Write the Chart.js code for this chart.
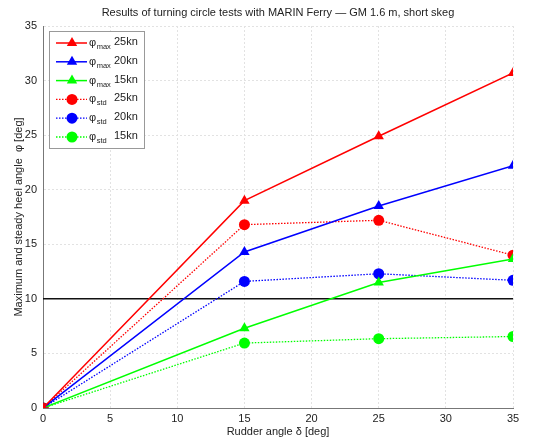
<!DOCTYPE html>
<html lang="en">
<head>
  <meta charset="UTF-8">
  <title>Turning circle tests</title>
  <script src="https://cdn.jsdelivr.net/npm/chart.js"></script>
  <style>
    * { margin: 0; padding: 0; box-sizing: border-box; }
    body { background: white; }
    .wrap { width: 538px; height: 440px; position: relative; }
  </style>
</head>
<body>

<div class="wrap">
  <canvas id="heelChart"></canvas>
</div>

<script>
  // data
  const rudderAngle = [0, 15, 25, 35];
  const phiMax25 = [0, 19.0, 24.9, 30.7];
  const phiMax20 = [0, 14.3, 18.5, 22.2];
  const phiMax15 = [0, 7.3, 11.5, 13.65];
  const phiStd25 = [0, 16.8, 17.2, 14.0];
  const phiStd20 = [0, 11.6, 12.3, 11.7];
  const phiStd15 = [0, 5.95, 6.35, 6.55];
  const refLevel = 10;
  const xTicks = [0, 5, 10, 15, 20, 25, 30, 35];
  const yTicks = [0, 5, 10, 15, 20, 25, 30, 35];

  const legendSub = ['max', 'max', 'max', 'std', 'std', 'std'];
  const legendSpeed = ['25kn', '20kn', '15kn', '25kn', '20kn', '15kn'];

  const FONT = "'Liberation Sans', Arial, sans-serif";

  function pts(ys) {
    return ys.map((y, i) => ({ x: rudderAngle[i], y: y }));
  }

  function maxSeries(ys, color) {
    return {
      data: pts(ys), borderColor: color, backgroundColor: color,
      borderWidth: 1.5, pointStyle: 'triangle', pointRadius: 6,
      pointBorderWidth: 0, tension: 0
    };
  }

  function stdSeries(ys, color) {
    return {
      data: pts(ys), borderColor: color, backgroundColor: color,
      borderWidth: 1.3, borderDash: [1.5, 1.5], pointStyle: 'circle', pointRadius: 5.5,
      pointBorderWidth: 0, tension: 0
    };
  }

  const datasets = [
    maxSeries(phiMax25, '#ff0000'),
    maxSeries(phiMax20, '#0000ff'),
    maxSeries(phiMax15, '#00ff00'),
    stdSeries(phiStd25, '#ff0000'),
    stdSeries(phiStd20, '#0000ff'),
    stdSeries(phiStd15, '#00ff00'),
    {
      data: [{ x: xTicks[0], y: refLevel }, { x: xTicks[xTicks.length - 1], y: refLevel }],
      borderColor: '#111', borderWidth: 1.5, pointRadius: 0, tension: 0, order: 10
    }
  ];

  // title + legend with subscripts drawn on the canvas
  const decorPlugin = {
    id: 'decor',
    afterDraw(chart) {
      const ctx = chart.ctx;
      const area = chart.chartArea;
      ctx.save();
      ctx.fillStyle = '#222';
      ctx.font = '11px ' + FONT;
      ctx.textAlign = 'center';
      ctx.textBaseline = 'middle';
      ctx.fillText('Results of turning circle tests with MARIN Ferry \u2014 GM 1.6 m, short skeg', (area.left + area.right) / 2, 13);

      // legend box
      const bx = 49, by = 31, bw = 95, bh = 117;
      ctx.fillStyle = 'white';
      ctx.fillRect(bx, by, bw, bh);
      ctx.strokeStyle = '#999';
      ctx.lineWidth = 1;
      ctx.strokeRect(bx + 0.5, by + 0.5, bw, bh);

      for (let i = 0; i < 6; i++) {
        const ds = chart.data.datasets[i];
        const yy = 43 + i * 18.8;
        ctx.strokeStyle = ds.borderColor;
        ctx.lineWidth = ds.borderWidth;
        ctx.setLineDash(ds.borderDash || []);
        ctx.beginPath();
        ctx.moveTo(56, yy);
        ctx.lineTo(87, yy);
        ctx.stroke();
        ctx.setLineDash([]);
        ctx.fillStyle = ds.backgroundColor;
        ctx.beginPath();
        if (ds.pointStyle === 'triangle') {
          const r = ds.pointRadius;
          ctx.moveTo(72, yy - r);
          ctx.lineTo(72 + r * 0.866, yy + r * 0.5);
          ctx.lineTo(72 - r * 0.866, yy + r * 0.5);
          ctx.closePath();
        } else {
          ctx.arc(72, yy, ds.pointRadius, 0, Math.PI * 2);
        }
        ctx.fill();

        ctx.fillStyle = '#222';
        ctx.textAlign = 'left';
        ctx.font = '11px ' + FONT;
        ctx.fillText('\u03c6', 89, yy);
        const phiW = ctx.measureText('\u03c6').width;
        ctx.font = '7.5px ' + FONT;
        ctx.fillText(legendSub[i], 89 + phiW + 0.5, yy + 4);
        ctx.font = '11px ' + FONT;
        ctx.fillText(legendSpeed[i], 114, yy - 1);
      }
      ctx.restore();
    }
  };

  new Chart(document.getElementById('heelChart'), {
    type: 'line',
    data: { datasets: datasets },
    options: {
      responsive: true,
      maintainAspectRatio: false,
      animation: false,
      layout: { padding: { top: 26, right: 25, left: 0, bottom: 0 } },
      plugins: {
        legend: { display: false },
        title: { display: false },
        tooltip: { enabled: false }
      },
      scales: {
        x: {
          type: 'linear', min: 0, max: 35,
          afterFit: (s) => { s.height = 32; },
          afterBuildTicks: (s) => { s.ticks = xTicks.map(v => ({ value: v })); },
          grid: { color: '#e2e2e2', drawTicks: false },
          border: { color: '#777', dash: [2, 2] },
          ticks: { color: '#222', padding: 4, font: { family: FONT, size: 11 } },
          title: {
            display: true, text: 'Rudder angle \u03b4 [deg]', color: '#222',
            font: { family: FONT, size: 11 }, padding: { top: 0, bottom: 1.5 }
          }
        },
        y: {
          min: 0, max: 35,
          afterFit: (s) => { s.width = 43; },
          afterBuildTicks: (s) => { s.ticks = yTicks.map(v => ({ value: v })); },
          grid: { color: '#e2e2e2', drawTicks: false },
          border: { color: '#777', dash: [2, 2] },
          ticks: { color: '#222', padding: 6, font: { family: FONT, size: 11 } },
          title: {
            display: true, text: 'Maximum and steady heel angle  \u03c6 [deg]', color: '#222',
            font: { family: FONT, size: 11 }, padding: { top: 12, bottom: 0 }
          }
        }
      }
    },
    plugins: [decorPlugin]
  });
</script>

</body>
</html>
